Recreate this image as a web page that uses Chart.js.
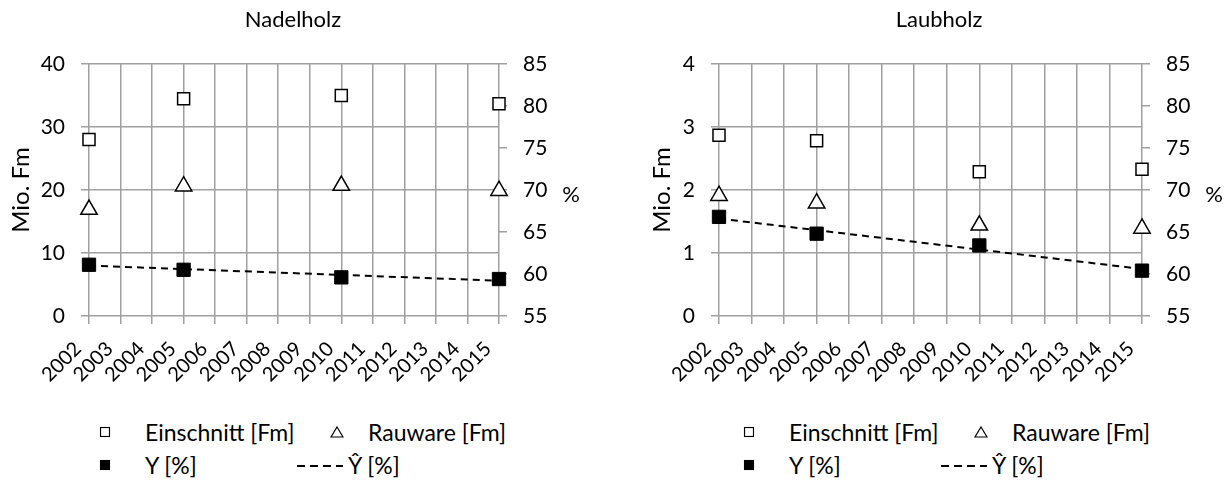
<!DOCTYPE html>
<html>
<head>
<meta charset="utf-8">
<script src="https://cdn.jsdelivr.net/npm/chart.js@4.4.1/dist/chart.umd.min.js"></script>
<style>
    body { margin: 0; background: #fff; font-family: Lato, sans-serif; }
    .box { position: absolute; top: 0; height: 400px; }
    .mark { position: absolute; transform: translate(-50%, -50%); line-height: 0; }
    .txt { position: absolute; transform: translateY(-50%); font-size: 23px; color: #000; white-space: nowrap; line-height: 1; }
</style>
</head>
<body>
<div class="box" style="left:0;width:615px"><canvas id="nadelChart"></canvas></div>
<div class="box" style="left:615px;width:616px"><canvas id="laubChart"></canvas></div>
<div id="legends"></div>
<script>
// values
const years = [2002, 2005, 2010, 2015];
const trendYears = [2002, 2015];
const seriesNames = ['Einschnitt [Fm]', 'Rauware [Fm]', 'Y [%]', 'Ŷ [%]'];

const nadelEinschnitt = [28.0, 34.5, 35.0, 33.7];
const nadelRauware = [16.9, 20.6, 20.7, 19.9];
const nadelY = [61.1, 60.5, 59.6, 59.4];
const nadelTrend = [61.0, 59.2];

const laubEinschnitt = [2.87, 2.78, 2.29, 2.33];
const laubRauware = [1.91, 1.79, 1.44, 1.39];
const laubY = [66.8, 64.8, 63.4, 60.4];
const laubTrend = [66.6, 60.6];

const gridColor = '#a0a0a0';
Chart.defaults.font.family = 'Lato';
Chart.defaults.color = '#000';

const percentLabel = {
    id: 'percentLabel',
    afterDraw(chart) {
        const ctx = chart.ctx;
        const area = chart.chartArea;
        ctx.save();
        ctx.font = '22px Lato';
        ctx.fillStyle = '#000';
        ctx.textAlign = 'center';
        ctx.textBaseline = 'middle';
        ctx.fillText('%', area.right + 72, (area.top + area.bottom) / 2 + 5);
        ctx.restore();
    }
};

function points(xs, ys) {
    return xs.map((x, i) => ({ x: x, y: ys[i] }));
}

function makeChart(id, title, einschnitt, rauware, yVals, trend, fmMax, lay) {
    const ctx = document.getElementById(id).getContext('2d');
    return new Chart(ctx, {
        type: 'line',
        data: {
            datasets: [{
                label: seriesNames[0],
                data: points(years, einschnitt),
                yAxisID: 'y',
                showLine: false,
                pointStyle: 'rect',
                pointRadius: 8.5,
                pointBackgroundColor: '#fff',
                pointBorderColor: '#000',
                pointBorderWidth: 1.5,
                borderColor: '#000',
                backgroundColor: '#fff'
            }, {
                label: seriesNames[1],
                data: points(years, rauware),
                yAxisID: 'y',
                showLine: false,
                pointStyle: 'triangle',
                pointRadius: 9.5,
                pointBackgroundColor: '#fff',
                pointBorderColor: '#000',
                pointBorderWidth: 1.5,
                borderColor: '#000',
                backgroundColor: '#fff'
            }, {
                label: seriesNames[2],
                data: points(years, yVals),
                yAxisID: 'y1',
                showLine: false,
                pointStyle: 'rect',
                pointRadius: 9.4,
                pointBackgroundColor: '#000',
                pointBorderColor: '#000',
                pointBorderWidth: 1,
                borderColor: '#000',
                backgroundColor: '#000'
            }, {
                label: seriesNames[3],
                data: points(trendYears, trend),
                yAxisID: 'y1',
                borderColor: '#000',
                borderWidth: 2,
                borderDash: [7, 5],
                pointRadius: 0,
                fill: false
            }]
        },
        options: {
            responsive: true,
            maintainAspectRatio: false,
            animation: false,
            datasets: { line: { clip: false } },
            layout: { padding: { left: lay.padLeft, right: lay.padRight, top: 0, bottom: 0 } },
            plugins: {
                legend: { display: false },
                tooltip: { enabled: false },
                title: {
                    display: true,
                    text: title,
                    color: '#000',
                    font: { size: 22, weight: 'normal' },
                    padding: { top: 7, bottom: 30.6 }
                }
            },
            scales: {
                x: {
                    type: 'linear',
                    min: 2002,
                    max: 2015,
                    ticks: {
                        stepSize: 1,
                        autoSkip: false,
                        maxRotation: 45,
                        minRotation: 45,
                        padding: 13,
                        labelOffset: -11,
                        font: { size: 20 },
                        callback: v => String(v)
                    },
                    grid: { color: gridColor, lineWidth: 1.5, tickLength: 8 },
                    border: { display: false },
                    afterFit: s => { s.height = 84; }
                },
                y: {
                    position: 'left',
                    min: 0,
                    max: fmMax,
                    ticks: { stepSize: fmMax / 4, padding: 16, font: { size: 21 } },
                    grid: { color: gridColor, lineWidth: 1.5, tickLength: 8 },
                    border: { display: false },
                    title: {
                        display: true,
                        text: 'Mio. Fm',
                        color: '#000',
                        font: { size: 24 },
                        padding: { top: lay.titlePad, bottom: 0 }
                    },
                    afterFit: s => { s.width = lay.leftWidth; }
                },
                y1: {
                    position: 'right',
                    min: 55,
                    max: 85,
                    ticks: { stepSize: 5, padding: 16, font: { size: 21 } },
                    grid: { drawOnChartArea: false, color: gridColor, lineWidth: 1.5, tickLength: 8 },
                    border: { display: false },
                    afterFit: s => { s.width = lay.rightWidth; }
                }
            }
        },
        plugins: [percentLabel]
    });
}

const nadelChart = makeChart('nadelChart', 'Nadelholz', nadelEinschnitt, nadelRauware, nadelY, nadelTrend, 40,
    { padLeft: 0, padRight: 29, leftWidth: 89, rightWidth: 87, titlePad: 6.6 });
const laubChart = makeChart('laubChart', 'Laubholz', laubEinschnitt, laubRauware, laubY, laubTrend, 4,
    { padLeft: 32, padRight: 0, leftWidth: 72, rightWidth: 89, titlePad: 0.6 });

// html legend, one per chart, built from the datasets
const legendSlots = [
    { x: 105, y: 432, tx: 145 },
    { x: 337, y: 432, tx: 368 },
    { x: 105, y: 465, tx: 145 },
    { x: 320, y: 465, tx: 348 }
];

function markerSvg(ds) {
    if (ds.borderDash) {
        return '<svg width="46" height="4"><line x1="0" y1="2" x2="46" y2="2" stroke="#000" stroke-width="2" stroke-dasharray="8,5"/></svg>';
    }
    if (ds.pointStyle === 'triangle') {
        return '<svg width="14" height="12"><polygon points="7,1 13,11 1,11" fill="#fff" stroke="#000" stroke-width="1.2"/></svg>';
    }
    return '<svg width="11" height="11"><rect x="1" y="1" width="9" height="9" fill="' + ds.pointBackgroundColor + '" stroke="#000" stroke-width="1.2"/></svg>';
}

function buildLegend(chart, dx) {
    const holder = document.getElementById('legends');
    chart.data.datasets.forEach(function (ds, i) {
        const slot = legendSlots[i];
        const mark = document.createElement('div');
        mark.className = 'mark';
        mark.style.left = (slot.x + dx) + 'px';
        mark.style.top = slot.y + 'px';
        mark.innerHTML = markerSvg(ds);
        holder.appendChild(mark);
        const txt = document.createElement('div');
        txt.className = 'txt';
        txt.style.left = (slot.tx + dx) + 'px';
        txt.style.top = slot.y + 'px';
        txt.innerText = ds.label;
        holder.appendChild(txt);
    });
}

buildLegend(nadelChart, 0);
buildLegend(laubChart, 644);
</script>
</body>
</html>
